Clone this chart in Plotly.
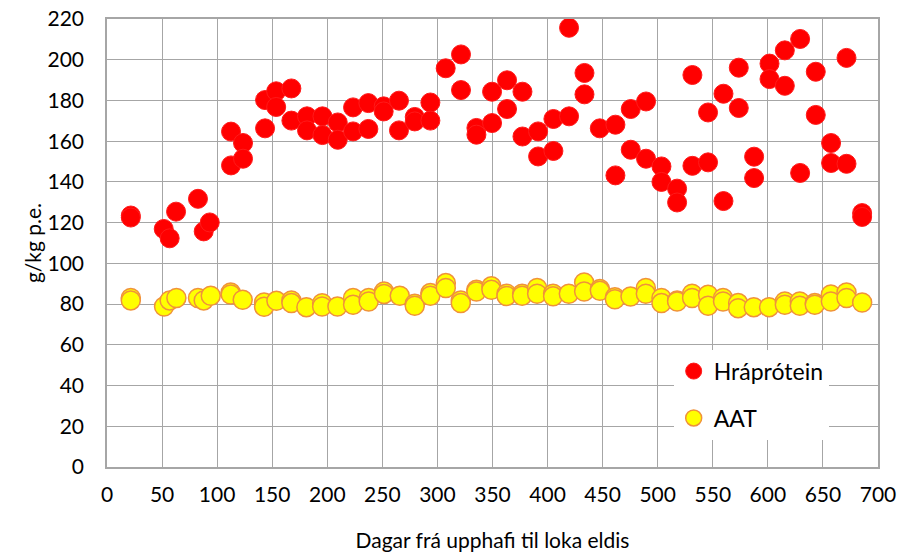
import plotly.graph_objects as go

# Hráprótein (crude protein), g/kg
hp_days = [21.6, 21.6, 51.5, 56.9, 62.7, 82.6, 87.8, 93.3,
           112.6, 112.6, 123.5, 123.5, 143.5, 143.5, 153.6, 153.6,
           167.4, 167.4, 181.6, 181.6, 195.6, 195.6, 209.5, 209.5,
           223.4, 223.4, 237.3, 237.3, 251.2, 251.2, 265.1, 265.1,
           279.4, 279.4, 293.6, 293.6, 307.5, 321.4, 321.4,
           335.4, 335.4, 349.6, 349.6, 363.2, 363.2, 377.2, 377.2,
           391.4, 391.4, 405.3, 405.3, 419.5, 419.5, 433.5, 433.5,
           447.4, 461.6, 461.6, 475.5, 475.5, 489.4, 489.4,
           503.4, 503.4, 517.6, 517.6, 531.5, 531.5, 545.7, 545.7,
           559.7, 559.7, 573.6, 573.6, 587.5, 587.5, 601.5, 601.5,
           615.4, 615.4, 629.3, 629.3, 643.5, 643.5, 657.4, 657.4,
           671.4, 671.4, 685.6, 685.6]
hp_vals = [123.5, 122.5, 116.9, 112.3, 125.4, 131.7, 115.7, 120.1,
           164.7, 148.1, 159.1, 151.4, 180.2, 166.3, 184.5, 176.8,
           185.9, 170.1, 172.2, 165.3, 172.2, 163.0, 169.2, 160.7,
           176.6, 164.8, 178.7, 166.0, 177.1, 174.6, 179.9, 165.3,
           171.9, 169.7, 179.0, 170.1, 195.8, 202.6, 185.1,
           166.5, 163.2, 184.3, 168.9, 189.9, 175.8, 184.3, 162.3,
           164.8, 152.5, 170.9, 155.2, 215.7, 172.2, 193.5, 183.0,
           166.3, 168.1, 143.2, 175.8, 155.8, 179.5, 151.4,
           147.6, 140.0, 136.7, 129.9, 192.5, 147.9, 174.1, 149.6,
           183.3, 130.6, 196.1, 176.3, 152.4, 141.9, 198.1, 190.5,
           204.6, 187.2, 210.2, 144.4, 194.1, 172.9, 159.1, 149.3,
           200.9, 148.9, 124.7, 122.8]

# AAT, g/kg
aat_days = [21.6, 21.6, 51.8, 56.9, 63.0, 82.6, 87.8, 94.2,
            112.3, 112.3, 123.2, 142.6, 142.6, 153.8, 167.4, 167.4,
            181.0, 195.3, 195.3, 209.2, 223.4, 223.4, 237.6, 237.6,
            251.5, 251.5, 265.8, 279.4, 279.4, 293.6, 293.6,
            307.6, 307.6, 321.2, 321.2, 335.4, 335.4, 349.0, 349.0,
            362.7, 362.7, 376.9, 376.9, 390.5, 390.5, 405.0, 405.0,
            419.3, 433.2, 433.2, 447.5, 447.5, 461.1, 461.1, 475.3,
            489.2, 489.2, 503.4, 503.4, 517.6, 517.6, 531.2, 531.2,
            545.7, 545.7, 559.3, 559.3, 573.0, 573.0, 587.2, 601.1,
            615.4, 615.4, 629.0, 629.0, 642.6, 642.6, 657.2, 657.2,
            671.4, 671.4, 685.6]
aat_vals = [83.0, 81.8, 78.8, 81.8, 83.0, 83.0, 81.8, 84.1,
            85.7, 84.7, 82.1, 80.8, 78.7, 81.6, 81.8, 80.5,
            78.5, 80.4, 78.8, 78.8, 83.0, 79.7, 83.0, 81.3,
            86.2, 85.0, 84.1, 80.2, 79.2, 85.4, 84.1,
            90.3, 87.9, 81.8, 80.5, 87.0, 86.2, 88.7, 87.0,
            85.1, 84.0, 85.1, 84.1, 87.9, 85.1, 85.1, 83.8,
            85.1, 90.6, 86.2, 87.4, 86.5, 83.4, 82.4, 83.7,
            87.9, 85.1, 83.0, 80.5, 81.8, 81.3, 85.1, 83.0,
            84.6, 79.2, 83.0, 81.3, 80.5, 78.0, 78.5, 78.5,
            81.3, 79.7, 81.3, 79.2, 80.5, 79.7, 84.7, 81.3,
            85.7, 83.0, 80.8]

x_ticks = list(range(0, 701, 50))
y_ticks = list(range(0, 221, 20))

FONT = "Lato"
grid = "#A6A6A6"

fig = go.Figure()
fig.add_trace(go.Scatter(
    x=hp_days, y=hp_vals, mode="markers", name="Hráprótein",
    legendgroup="a",
    marker=dict(size=19, color="#FF0000", line=dict(color="#FF1A1A", width=1)),
))
fig.add_trace(go.Scatter(
    x=aat_days, y=aat_vals, mode="markers", name="AAT",
    legendgroup="b",
    marker=dict(size=19, color="#FFFF00", line=dict(color="#F0923A", width=1.5)),
))

fig.update_layout(
    width=903, height=556,
    margin=dict(l=107, r=25, t=19, b=89, autoexpand=False),
    paper_bgcolor="white", plot_bgcolor="white",
    font=dict(family=FONT, size=21, color="#000000"),
    showlegend=True,
    legend=dict(
        x=0.735, y=0.262, xanchor="left", yanchor="top",
        bgcolor="white", borderwidth=0,
        font=dict(family=FONT, size=23, color="#000000"),
        tracegroupgap=14,
        itemwidth=30,
    ),
    xaxis=dict(
        range=[0, 700], tickvals=x_ticks, ticktext=[str(v) for v in x_ticks],
        showgrid=True, gridcolor=grid, gridwidth=1,
        showline=True, linecolor=grid, linewidth=1.5, mirror=True,
        zeroline=False, ticks="", ticklabelstandoff=8, automargin=False,
        tickfont=dict(family=FONT, size=21),
        title=dict(text="Dagar frá upphafi til loka eldis",
                   font=dict(family=FONT, size=21), standoff=28),
    ),
    yaxis=dict(
        range=[0, 220], tickvals=y_ticks, ticktext=[str(v) for v in y_ticks],
        showgrid=True, gridcolor=grid, gridwidth=1,
        showline=True, linecolor=grid, linewidth=1.5, mirror=True,
        zeroline=False, ticks="", ticklabelstandoff=17, automargin=False,
        tickfont=dict(family=FONT, size=21),
        title=dict(text="g/kg p.e.", font=dict(family=FONT, size=21), standoff=0),
    ),
)

fig.write_html("out.html",
               config={"displayModeBar": False},
               post_script="document.body.style.margin='0';document.body.style.padding='0';")
